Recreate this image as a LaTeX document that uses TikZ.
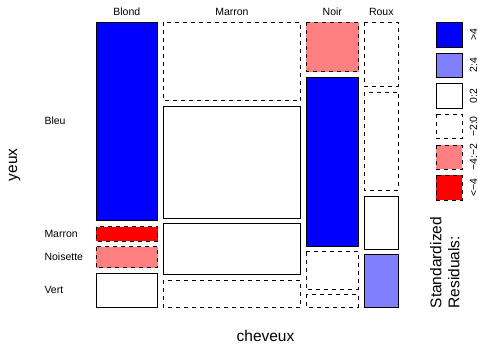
\documentclass[tikz,border=0pt]{standalone}
\usepackage{fontspec}
\setmainfont{Liberation Sans}
\usepackage{tikz}
\definecolor{resblue}{rgb}{0.0,0.0,1.0}
\definecolor{reslightblue}{rgb}{0.5,0.5,1.0}
\definecolor{respink}{rgb}{1.0,0.5,0.5}
\definecolor{resred}{rgb}{1.0,0.0,0.0}
\tikzset{
  solidtile/.style={draw=black, line width=0.75pt},
  dashtile/.style={draw=black, line width=0.75pt, dash pattern=on 4pt off 4pt},
  smalltxt/.style={font=\fontsize{10.5}{12.6}\selectfont},
  bigtxt/.style={font=\fontsize{15.5}{18}\selectfont},
}

\begin{document}
\begin{tikzpicture}[x=1pt, y=-1pt]
\useasboundingbox (0,0) rectangle (478,344);
% Blond
\draw[solidtile, fill=resblue] (96,22.3) rectangle (157.7,220);
\draw[dashtile, fill=resred] (96,226.7) rectangle (157.7,241);
\draw[dashtile, fill=respink] (96,246.7) rectangle (157.7,267.7);
\draw[solidtile, fill=white] (96,273.3) rectangle (157.7,307);
% Marron
\draw[dashtile] (163,22.3) rectangle (300.7,100.7);
\draw[solidtile] (163,106) rectangle (300.7,218);
\draw[solidtile] (163,223.7) rectangle (300.7,274.3);
\draw[dashtile] (163,280) rectangle (300.7,307);
% Noir
\draw[dashtile, fill=respink] (306,22.3) rectangle (358.5,71.7);
\draw[solidtile, fill=resblue] (306,77.3) rectangle (358.5,246);
\draw[dashtile] (306,251.7) rectangle (358.5,289.3);
\draw[dashtile] (306,294.3) rectangle (358.5,307);
% Roux
\draw[dashtile] (364,22.3) rectangle (398.5,86);
\draw[dashtile] (364,92) rectangle (398.5,190);
\draw[solidtile] (364,196) rectangle (398.5,249);
\draw[solidtile, fill=reslightblue] (364,254.3) rectangle (398.5,307);

% column and row labels
\node[smalltxt, anchor=base] (cblond) at (126.8,16) {Blond};
\node[smalltxt, anchor=base] (cmarron) at (231.9,16) {Marron};
\node[smalltxt, anchor=base] (cnoir) at (332.3,16) {Noir};
\node[smalltxt, anchor=base] (croux) at (381.3,16) {Roux};
\node[smalltxt, anchor=west, inner xsep=0pt, text height=7.5pt, text depth=0pt] (rbleu) at (44.3,121.2) {Bleu};
\node[smalltxt, anchor=west, inner xsep=0pt, text height=7.5pt, text depth=0pt] (rmarron) at (44.3,233.8) {Marron};
\node[smalltxt, anchor=west, inner xsep=0pt, text height=7.5pt, text depth=0pt] (rnoisette) at (44.3,257.2) {Noisette};
\node[smalltxt, anchor=west, inner xsep=0pt, text height=7.5pt, text depth=0pt] (rvert) at (44.3,290.1) {Vert};

% axis titles
\node[bigtxt, rotate=90, anchor=base] (ylab) at (17,164.7) {yeux};
\node[bigtxt, anchor=base] (xlab) at (265.5,341) {cheveux};

% legend
\foreach \col/\sty/\lab [count=\i from 0] in {resblue/solidtile/{>4}, reslightblue/solidtile/{2:4}, white/solidtile/{0:2}, white/dashtile/{−2:0}, respink/dashtile/{−4:−2}, resred/dashtile/{<−4}}
{
  \draw[\sty, fill=\col] (436,22.5+30.6*\i) rectangle (462,47+30.6*\i);
  \node[smalltxt, rotate=90, anchor=base] (leg\i) at (477,34.75+30.6*\i) {\lab};
}
\node[bigtxt, rotate=90, anchor=north west, align=left, inner sep=0pt] (stdres) at (430,308.5) {Standardized\\Residuals:};
\end{tikzpicture}
\end{document}
